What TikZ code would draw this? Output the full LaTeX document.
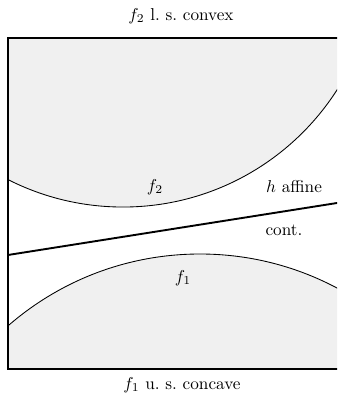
\documentclass[tikz,border=0pt]{standalone}
\begin{document}
\begin{tikzpicture}[x=0.5814pt,y=0.5814pt,
  region/.style={fill=black!6},
  curve/.style={line width=0.5pt},
  frame/.style={line width=1.6pt},
  affine/.style={line width=1.1pt},
  lab/.style={inner sep=0pt}]
\useasboundingbox (0,0) rectangle (337,399);
\clip (0,0) rectangle (337,399);
\begin{scope}
  \clip (8,30) rectangle (356,361);
  \fill[region] (123,446) circle[radius=147.7pt];
  \fill[region] (200,-147.4) circle[radius=170pt];
  \draw[curve] (123,446) circle[radius=147.7pt];
  \draw[curve] (200,-147.4) circle[radius=170pt];
\end{scope}
\draw[frame] (8,30) rectangle (356,361);
\coordinate (hl) at (8,144);
\coordinate (hr) at (356,199);
\draw[affine] (hl) -- (hr);
\node[lab] (top) at (181,383) {$f_2$ l.\ s.\ convex};
\node[lab] (bot) at (182,14) {$f_1$ u.\ s.\ concave};
\node[lab] (ftwo) at (155,212) {$f_2$};
\node[lab] (haff) at (294,212) {$h$ affine};
\node[lab] (cont) at (284,169) {cont.};
\node[lab] (fone) at (183,121) {$f_1$};
\end{tikzpicture}
\end{document}
